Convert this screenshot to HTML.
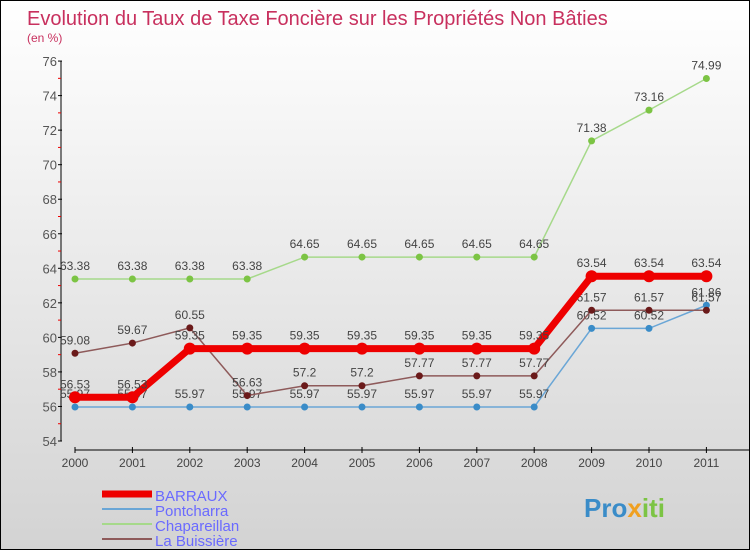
<!DOCTYPE html>
<html><head><meta charset="utf-8"><style>
body{margin:0;}
#wrap{position:relative;width:748px;height:548px;border:1px solid #000;background:linear-gradient(#ffffff,#d3d3d3);font-family:"Liberation Sans",sans-serif;overflow:hidden}
</style></head><body>
<div id="wrap">
<svg id="svg" width="748" height="548" xmlns="http://www.w3.org/2000/svg"></svg>
</div>
<script>
const years=["2000","2001","2002","2003","2004","2005","2006","2007","2008","2009","2010","2011"];
const barraux=[56.53,56.53,59.35,59.35,59.35,59.35,59.35,59.35,59.35,63.54,63.54,63.54];
const pontcharra=[55.97,55.97,55.97,55.97,55.97,55.97,55.97,55.97,55.97,60.52,60.52,61.86];
const chapareillan=[63.38,63.38,63.38,63.38,64.65,64.65,64.65,64.65,64.65,71.38,73.16,74.99];
const buissiere=[59.08,59.67,60.55,56.63,57.2,57.2,57.77,57.77,57.77,61.57,61.57,61.57];
const yTicks=[54,56,58,60,62,64,66,68,70,72,74,76];
const NS="http://www.w3.org/2000/svg";
const svg=document.getElementById('svg');
const X=i=>74+i*57.4;
const Y=v=>440-(v-54)*17.27;
function el(t,a,txt){const e=document.createElementNS(NS,t);for(const k in a)e.setAttribute(k,a[k]);if(txt!==undefined)e.textContent=txt;svg.appendChild(e);return e;}
let e;
e=el('text',{x:26,y:24,fill:'#c8305e','font-size':20},'Evolution du Taux de Taxe Foncière sur les Propriétés Non Bâties');

e=el('text',{x:26,y:41,fill:'#c8305e','font-size':12},'(en %)');

e=el('line',{x1:60,y1:Y(76),x2:60,y2:Y(54),stroke:'#000'});

e=el('line',{x1:74,y1:449,x2:748,y2:449,stroke:'#000'});

yTicks.forEach(v=>{
 el('line',{x1:57,y1:Y(v),x2:61,y2:Y(v),stroke:'#000'});
 if(v<76)el('line',{x1:57,y1:Y(v+1),x2:60,y2:Y(v+1),stroke:'#e00'});
 e=el('text',{x:56,y:Y(v)+5,'text-anchor':'end','font-size':13,fill:'#555'},v);
 
});
years.forEach((y,i)=>{
 el('line',{x1:X(i),y1:446,x2:X(i),y2:452,stroke:'#000'});
 e=el('text',{x:X(i),y:466,'text-anchor':'middle','font-size':12,fill:'#444'},y);
 
});
function series(data,color,w,r,name,dot){
 e=el('polyline',{points:data.map((v,i)=>X(i)+','+Y(v)).join(' '),fill:'none',stroke:color,'stroke-width':w});
 
 data.forEach((v,i)=>{
  e=el('circle',{cx:X(i),cy:Y(v),r:r,fill:dot});
  
  e=el('text',{x:X(i),y:Y(v)-9,'text-anchor':'middle','font-size':12,fill:'#444'},v);
  
 });
}
series(pontcharra,'#6aa6d6',1.5,3.5,'pontcharra','#3a8cc8');
series(chapareillan,'#a6d98a',1.5,3.5,'chapareillan','#7cc444');
series(buissiere,'#8e5a5a',1.5,3.5,'la-buissiere','#6b1a1a');
series(barraux,'#ee0000',7,6,'barraux','#ee0000');
const legend=[['BARRAUX','#ee0000',7],['Pontcharra','#6aa6d6',2],['Chapareillan','#a6d98a',2],['La Buissière','#8e5a5a',2]];
legend.forEach((l,i)=>{
 const y=493+i*15;
 e=el('line',{x1:101,y1:y,x2:151,y2:y,stroke:l[1],'stroke-width':l[2]});
 
 e=el('text',{x:154,y:y+7,'font-size':15,fill:'#6a6aff'},l[0]);
 
});
e=el('text',{x:583,y:516,'font-size':26,'font-weight':'bold',fill:'#3a8cc8'});

e.innerHTML='<tspan fill="#3a8cc8">Pro</tspan><tspan fill="#f0a020">x</tspan><tspan fill="#7cc444">iti</tspan>';
</script>
</body></html>
